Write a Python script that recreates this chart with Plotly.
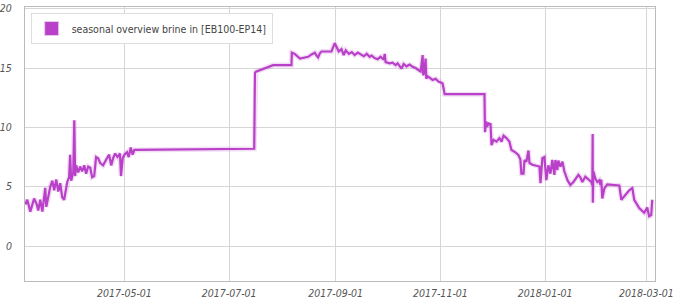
import pandas as pd
import plotly.graph_objects as go

# days since 2017-03-01 and brine temperature values
START = "2017-03-01"
days = [3.3, 4.4, 5.5, 6.2, 8.4, 10.0, 10.8, 12.0, 13.2, 14.9, 15.5, 16.6, 17.8, 19.0, 20.1,
        21.3, 22.5, 23.6, 24.8, 25.9, 27.1, 27.7, 28.8, 29.4, 30.0, 31.2, 31.8, 32.3, 32.9,
        34.1, 35.2, 36.4, 37.6, 38.7, 39.9, 41.1, 42.2, 43.4, 44.5, 45.7, 46.9, 48.6, 50.4,
        52.1, 53.3, 54.4, 55.6, 57.0, 58.4, 59.0, 60.0, 61.0, 62.5, 63.5, 64.7, 65.8, 66.8,
        136.6, 137.0, 137.6, 147.6, 158.3, 158.5, 160.2, 163.2, 168.0, 170.0, 171.9, 172.9,
        173.8, 174.8, 175.8, 181.6, 183.5, 184.5, 185.8, 187.4, 188.7, 189.9, 191.7, 193.4,
        195.1, 196.9, 198.6, 200.4, 202.1, 203.8, 205.0, 206.7, 208.5, 210.2, 212.0, 212.6,
        213.1, 215.5, 217.2, 218.9, 220.1, 221.3, 222.4, 223.6, 225.3, 227.1, 228.8, 230.6,
        232.3, 233.5, 234.7, 235.0, 235.6, 236.4, 236.8, 237.6, 238.7, 240.5, 242.2, 244.0,
        245.1, 246.3, 247.5, 270.7, 271.0, 271.6, 272.2, 273.0, 273.6, 274.2, 274.8, 276.0,
        277.7, 279.4, 280.6, 281.8, 283.5, 285.2, 286.4, 288.7, 290.5, 291.6, 292.2, 293.4,
        294.0, 295.1, 296.3, 296.9, 298.6, 301.0, 302.7, 303.3, 304.4, 305.6, 306.7, 307.9,
        309.1, 310.2, 311.4, 312.0, 313.1, 313.7, 314.9, 316.1, 317.2, 319.0, 320.7, 322.5,
        324.2, 325.4, 326.5, 327.7, 329.4, 331.2, 332.9, 333.5, 333.7, 333.8, 334.1, 335.2,
        336.4, 337.6, 338.2, 338.7, 339.3, 340.5, 342.2, 344.5, 349.2, 350.4, 352.7, 355.0,
        356.8, 357.9, 360.8, 363.7, 365.5, 366.6, 367.8, 368.4]
values = [3.5, 3.9, 3.3, 2.9, 4.0, 3.5, 3.0, 3.9, 2.9, 4.9, 3.3, 4.2, 5.0, 5.5, 4.7,
          5.6, 4.6, 5.3, 4.1, 3.9, 4.9, 5.4, 5.8, 7.7, 5.5, 6.2, 10.6, 5.9, 6.8,
          6.2, 6.7, 6.3, 6.8, 6.1, 6.7, 6.6, 5.8, 5.9, 7.5, 7.4, 7.0, 6.8, 7.3,
          7.7, 6.8, 7.4, 7.8, 7.5, 7.8, 5.9, 7.4, 7.7, 7.9, 7.5, 8.3, 7.7, 8.1,
          8.2, 14.6, 14.7, 15.25, 15.25, 16.3, 16.2, 15.8, 15.95, 16.15, 16.3, 16.05,
          15.9, 16.25, 16.4, 16.4, 17.1, 16.8, 16.4, 16.6, 16.1, 16.5, 16.2, 16.35,
          16.1, 16.3, 16.15, 16.0, 16.2, 15.95, 16.05, 15.85, 15.75, 15.95, 15.7, 16.2,
          15.5, 15.4, 15.45, 15.25, 15.4, 15.2, 14.95, 15.35, 15.15, 15.3, 15.1, 15.0,
          14.85, 14.7, 16.1, 14.4, 14.6, 15.8, 14.1, 14.3, 14.2, 14.0, 14.1, 13.85,
          13.8, 13.7, 12.8, 12.8, 9.6, 10.5, 10.05, 10.4, 10.2, 10.35, 8.5, 8.95,
          8.8, 9.1, 8.8, 9.3, 9.1, 8.8, 8.1, 7.9, 7.65, 7.3, 6.1, 6.1,
          7.25, 7.1, 8.05, 7.0, 6.85, 6.75, 6.7, 5.3, 7.4, 7.5, 5.55, 6.8,
          6.1, 7.25, 6.0, 7.25, 6.4, 7.2, 6.7, 7.1, 6.3, 5.55, 5.15, 5.4,
          5.7, 6.0, 5.8, 5.4, 5.85, 5.6, 5.4, 5.1, 9.45, 3.65, 6.3, 5.7,
          5.4, 5.55, 5.15, 5.6, 4.0, 4.85, 5.2, 5.15, 5.1, 3.9, 4.3, 4.7,
          4.9, 3.9, 3.2, 2.8, 3.25, 2.5, 2.6, 3.9]
series_name = "seasonal overview brine in [EB100-EP14]"
tick_dates = ["2017-05-01", "2017-07-01", "2017-09-01", "2017-11-01", "2018-01-01", "2018-03-01"]
y_ticks = [0, 5, 10, 15, 20]

start = pd.Timestamp(START)
dates = [start + pd.Timedelta(days=d) for d in days]
x_range = [start + pd.Timedelta(days=3.1), start + pd.Timedelta(days=370.0)]

COLOR = "#b940c8"
TICKFONT = dict(family="DejaVu Sans Condensed", size=10.5, color="#555", style="italic")

fig = go.Figure()
# soft shadow
fig.add_trace(go.Scatter(x=dates, y=values, mode="lines",
                         line=dict(color="rgba(185,64,200,0.18)", width=5),
                         showlegend=False, hoverinfo="skip"))
fig.add_trace(go.Scatter(x=dates, y=values, mode="lines",
                         line=dict(color=COLOR, width=2.2),
                         showlegend=False))
# legend swatch
fig.add_trace(go.Scatter(x=[None], y=[None], mode="markers", name=series_name,
                         marker=dict(symbol="square", size=14, color=COLOR,
                                     line=dict(color="#e8c8ee", width=1))))

fig.update_layout(
    width=680, height=300,
    margin=dict(l=25, r=25, t=7, b=19),
    paper_bgcolor="white", plot_bgcolor="white",
    font=dict(family="DejaVu Sans Condensed", size=11, color="#444"),
    showlegend=True,
    legend=dict(x=0.009, y=0.978, xanchor="left", yanchor="top",
                bgcolor="white", bordercolor="#dddddd", borderwidth=1,
                font=dict(size=10.5, color="#444"), itemwidth=30),
    xaxis=dict(range=x_range, tickvals=tick_dates, tickformat="%Y-%m-%d",
               showgrid=True, gridcolor="#d6d6d6", gridwidth=1,
               showline=True, linecolor="#bbbbbb", mirror=True,
               ticks="", zeroline=False, automargin=False, ticklabelstandoff=2,
               tickfont=TICKFONT),
    yaxis=dict(range=[-2.95, 20.15], tickvals=y_ticks,
               showgrid=True, gridcolor="#d6d6d6", gridwidth=1,
               showline=True, linecolor="#bbbbbb", mirror=True,
               ticks="", zeroline=False, automargin=False, ticklabelstandoff=10,
               tickfont=TICKFONT),
)

fig.write_html("out.html")
